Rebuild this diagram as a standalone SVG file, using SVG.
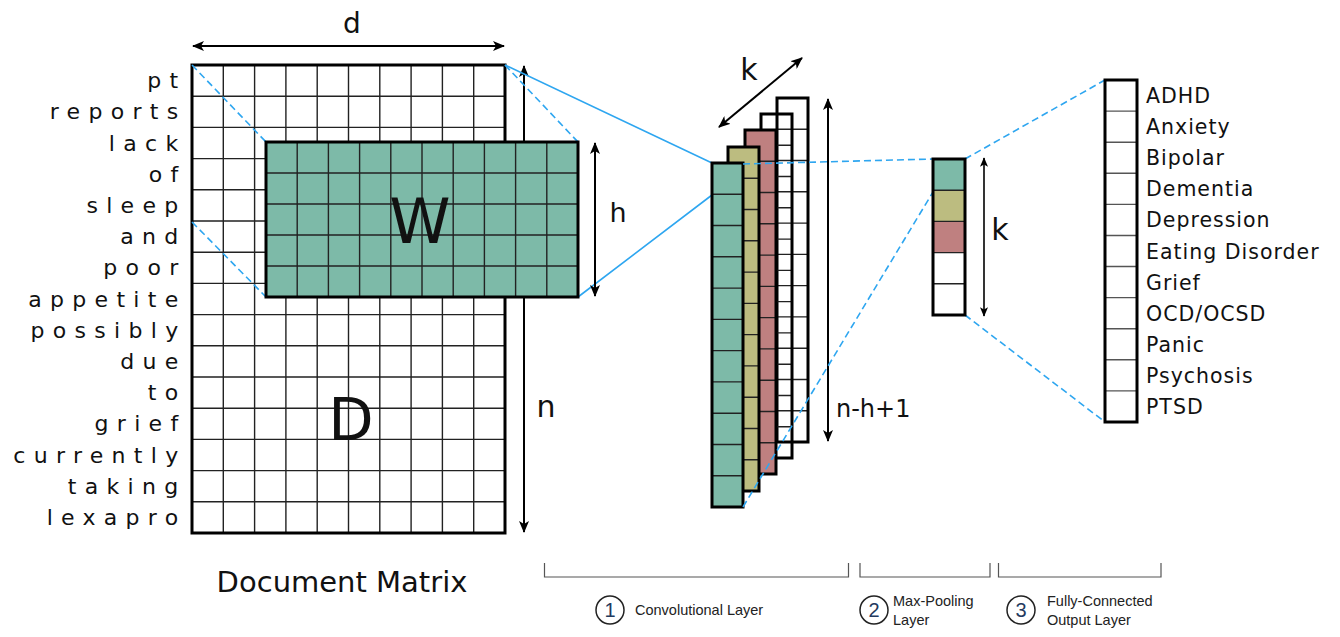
<svg xmlns="http://www.w3.org/2000/svg" xmlns:xlink="http://www.w3.org/1999/xlink" width="1340" height="637" viewBox="0 0 1340 637">
<style>
.t{font-family:"DejaVu Sans",sans-serif;fill:#111}
.w{font-family:"DejaVu Sans",sans-serif;font-size:22px;letter-spacing:8.3px;text-anchor:end;fill:#111}
.lbl{font-family:"DejaVu Sans",sans-serif;font-size:20.5px;letter-spacing:1px;fill:#111}
.cap{font-family:"Liberation Sans",Arial,sans-serif;font-size:14.5px;fill:#222}
.num{font-family:"Liberation Sans",Arial,sans-serif;font-size:20px;fill:#233a5e;text-anchor:middle}
.grid{stroke:#222;stroke-width:1.4;fill:none}
.border{stroke:#000;stroke-width:3;fill:none}
.arr{stroke:#000;stroke-width:2;fill:none;marker-start:url(#ah);marker-end:url(#ah)}
.arrt{stroke:#000;stroke-width:1.6;fill:none;marker-start:url(#ah2);marker-end:url(#ah2)}
.dash{stroke:#2ea6f0;stroke-width:1.6;stroke-dasharray:7 4;fill:none}
.solid{stroke:#2ea6f0;stroke-width:1.6;fill:none}
.br{stroke:#555;stroke-width:1.2;fill:none}
.teal{fill:#7dbaa8}.olive{fill:#bcbc80}.rose{fill:#bf8080}
</style>
<defs>
<marker id="ah" viewBox="0 0 12 10" refX="11" refY="5" markerWidth="6" markerHeight="5" orient="auto-start-reverse" markerUnits="strokeWidth">
<path d="M0,0 L12,5 L0,10 L3,5 z" fill="#000"/>
</marker>
<marker id="ah2" viewBox="0 0 12 10" refX="11" refY="5" markerWidth="6" markerHeight="5" orient="auto-start-reverse" markerUnits="strokeWidth">
<path d="M0,0 L12,5 L0,10 L3,5 z" fill="#000"/>
</marker>
<path id="mapcells" class="grid" d="M0,31.27H31M0,62.55H31M0,93.82H31M0,125.1H31M0,156.36H31M0,187.64H31M0,218.9H31M0,250.2H31M0,281.45H31M0,312.73H31"/>
</defs>

<g id="document-matrix">
<rect x="192" y="65" width="313" height="468" fill="#fff"/>
<path class="grid" d="M223.3,65V533M254.6,65V533M285.9,65V533M317.2,65V533M348.5,65V533M379.8,65V533M411.1,65V533M442.4,65V533M473.7,65V533
M192,96.2H505M192,127.4H505M192,158.6H505M192,189.8H505M192,221H505M192,252.2H505M192,283.4H505M192,314.6H505M192,345.8H505M192,377H505M192,408.2H505M192,439.4H505M192,470.6H505M192,501.8H505"/>
<rect class="border" x="192" y="65" width="313" height="468"/>
<text class="t" x="351" y="440" font-size="59" text-anchor="middle">D</text>
<text class="t" x="342" y="592" font-size="29" text-anchor="middle">Document Matrix</text>
</g>

<g id="words">
<text class="w" x="186.5" y="88">pt</text>
<text class="w" x="186.5" y="119.3">reports</text>
<text class="w" x="186.5" y="150.5">lack</text>
<text class="w" x="186.5" y="181.7">of</text>
<text class="w" x="186.5" y="212.9">sleep</text>
<text class="w" x="186.5" y="244.1">and</text>
<text class="w" x="186.5" y="275.3">poor</text>
<text class="w" x="186.5" y="306.5">appetite</text>
<text class="w" x="186.5" y="337.7">possibly</text>
<text class="w" x="186.5" y="368.9">due</text>
<text class="w" x="186.5" y="400.1">to</text>
<text class="w" x="186.5" y="431.3">grief</text>
<text class="w" x="186.5" y="462.5">currently</text>
<text class="w" x="186.5" y="493.7">taking</text>
<text class="w" x="186.5" y="524.9">lexapro</text>
</g>

<g id="dimension-arrows">
<path class="arr" d="M193,46H504"/>
<text class="t" x="352" y="33" font-size="28" text-anchor="middle">d</text>
<path class="arr" d="M524,66V532"/>
<text class="t" x="546" y="417" font-size="30" text-anchor="middle">n</text>
</g>

<g id="connectors">
<path class="dash" d="M192,65L266,142M192,222L266,297M505,65L578,142"/>
<path class="solid" d="M505,65L712,163M578,297L712,195"/>
</g>

<g id="filter-W">
<rect class="teal" x="266" y="142" width="312" height="155"/>
<path class="grid" d="M297.2,142V297M328.4,142V297M359.6,142V297M390.8,142V297M422,142V297M453.2,142V297M484.4,142V297M515.6,142V297M546.8,142V297M266,173H578M266,204H578M266,235H578M266,266H578"/>
<rect class="border" x="266" y="142" width="312" height="155"/>
<text class="t" x="420" y="243" font-size="62" text-anchor="middle">W</text>
<path class="arr" d="M595,143V296"/>
<text class="t" x="618" y="222" font-size="27" text-anchor="middle">h</text>
</g>

<g id="feature-maps">
<g transform="translate(777,98)"><rect x="0" y="0" width="31" height="344" fill="#fff"/><use xlink:href="#mapcells"/><rect class="border" x="0" y="0" width="31" height="344"/></g>
<g transform="translate(761,114)"><use xlink:href="#mapcells"/><rect class="border" x="0" y="0" width="31" height="344"/></g>
<g transform="translate(745,130)"><rect class="rose" x="0" y="0" width="31" height="344"/><use xlink:href="#mapcells"/><rect class="border" x="0" y="0" width="31" height="344"/></g>
<g transform="translate(728,147)"><rect class="olive" x="0" y="0" width="31" height="344"/><use xlink:href="#mapcells"/><rect class="border" x="0" y="0" width="31" height="344"/></g>
<g transform="translate(712,163)"><rect class="teal" x="0" y="0" width="31" height="344"/><use xlink:href="#mapcells"/><rect class="border" x="0" y="0" width="31" height="344"/></g>
<path class="arr" d="M719,127L802,58"/>
<text class="t" x="749" y="80" font-size="30" text-anchor="middle">k</text>
<path class="arr" d="M828,99V441"/>
<text class="t" x="836" y="417" font-size="24">n-h+1</text>
</g>

<g id="connectors-2">
<path class="dash" d="M743,164L933,159M743,507L933,192M965,159L1105,80M965,315L1105,422"/>
</g>

<g id="pooling-vector">
<rect class="teal" x="933" y="159" width="32" height="31.2"/>
<rect class="olive" x="933" y="190.2" width="32" height="31.2"/>
<rect class="rose" x="933" y="221.4" width="32" height="31.2"/>
<rect x="933" y="252.6" width="32" height="62.4" fill="#fff"/>
<path class="grid" d="M933,190.2H965M933,221.4H965M933,252.6H965M933,283.8H965"/>
<rect class="border" x="933" y="159" width="32" height="156"/>
<path class="arrt" d="M984,158V316"/>
<text class="t" x="1000" y="240" font-size="30" text-anchor="middle">k</text>
</g>

<g id="output-layer">
<rect x="1105" y="80" width="32" height="342" fill="#fff"/>
<path stroke="#555" stroke-width="1.4" fill="none" d="M1105,111.1H1137M1105,142.2H1137M1105,173.3H1137M1105,204.4H1137M1105,235.5H1137M1105,266.5H1137M1105,297.6H1137M1105,328.7H1137M1105,359.8H1137M1105,390.9H1137"/>
<rect class="border" x="1105" y="80" width="32" height="342"/>
<text class="lbl" x="1146" y="103">ADHD</text>
<text class="lbl" x="1146" y="134.1">Anxiety</text>
<text class="lbl" x="1146" y="165.2">Bipolar</text>
<text class="lbl" x="1146" y="196.3">Dementia</text>
<text class="lbl" x="1146" y="227.4">Depression</text>
<text class="lbl" x="1146" y="258.5">Eating Disorder</text>
<text class="lbl" x="1146" y="289.6">Grief</text>
<text class="lbl" x="1146" y="320.7">OCD/OCSD</text>
<text class="lbl" x="1146" y="351.8">Panic</text>
<text class="lbl" x="1146" y="382.9">Psychosis</text>
<text class="lbl" x="1146" y="414">PTSD</text>
</g>

<g id="layer-captions">
<path class="br" d="M544.5,563V577H848.5V563M860,563V577H990V563M998.5,563V577H1161V563"/>
<circle cx="610" cy="610" r="14" fill="none" stroke="#222" stroke-width="1.5"/>
<text class="num" x="610" y="617">1</text>
<text class="cap" x="635" y="615">Convolutional Layer</text>
<circle cx="874" cy="610" r="14" fill="none" stroke="#222" stroke-width="1.5"/>
<text class="num" x="874" y="617">2</text>
<text class="cap" x="893" y="606">Max-Pooling</text>
<text class="cap" x="893" y="625">Layer</text>
<circle cx="1021" cy="610" r="14" fill="none" stroke="#222" stroke-width="1.5"/>
<text class="num" x="1021" y="617">3</text>
<text class="cap" x="1047" y="606">Fully-Connected</text>
<text class="cap" x="1047" y="625">Output Layer</text>
</g>
</svg>
